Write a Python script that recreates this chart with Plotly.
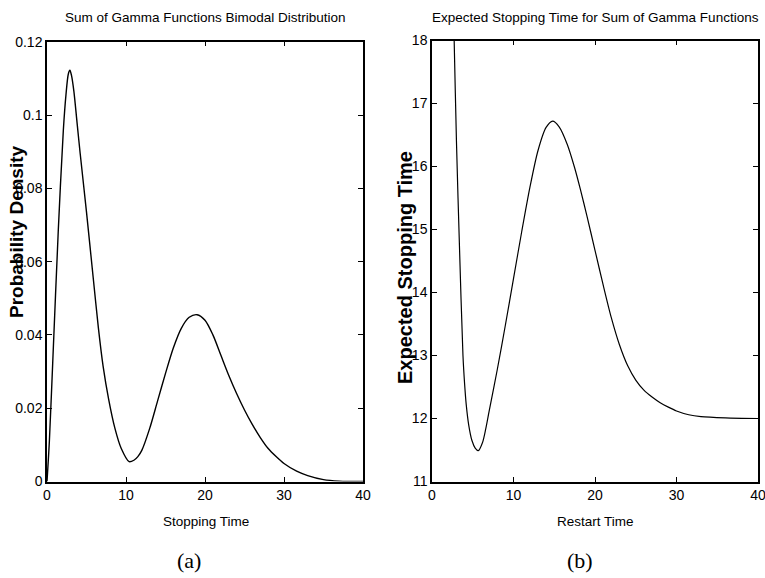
import plotly.graph_objects as go

# Left panel: bimodal density
stop_time = [0, 0.3, 0.72, 1.43, 2.07, 2.4, 2.7, 2.9, 3.1, 3.4, 3.8, 4.2, 5.0, 5.9, 6.5, 7.1, 7.8,
             8.6, 9.4, 10.4, 11.0, 11.5, 12.0, 13.0, 14.0, 15.0, 16.0, 17.0, 18.0, 19.0, 20.0, 21.0,
             22.0, 23.0, 24.0, 25.0, 26.0, 27.0, 28.0, 29.0, 30.0, 31.6, 33.0, 35.0, 37.0, 40.0]
density = [0, 0.011, 0.0322, 0.0686, 0.0959, 0.1055, 0.1112, 0.1122, 0.1108, 0.1065, 0.0980,
           0.0895, 0.0735, 0.0545, 0.0420, 0.0315, 0.0225, 0.0145, 0.0090, 0.0054, 0.0058, 0.0068,
           0.0085, 0.0145, 0.0220, 0.0295, 0.0365, 0.0418, 0.0448, 0.0455, 0.0440, 0.0400, 0.0345,
           0.0290, 0.0240, 0.0195, 0.0155, 0.0120, 0.0090, 0.0068, 0.0049, 0.0028, 0.0016, 0.0005,
           0.0001, 0.0]

# Right panel: expected stopping time vs restart time
restart_time = [2.5, 2.72, 3.0, 3.4, 3.8, 4.0, 4.2, 4.5, 4.9, 5.3, 5.68, 6.2, 6.6, 7.0, 8.0, 9.0,
                10.0, 11.0, 12.0, 13.0, 14.0, 14.8, 15.6, 16.6, 17.5, 18.2, 19.0, 20.0, 21.0, 22.0,
                23.0, 24.0, 25.0, 26.0, 27.0, 28.0, 29.0, 30.0, 31.5, 33.0, 36.0, 40.0]
expected_time = [19.2, 18.0, 16.4, 14.6, 13.0, 12.55, 12.22, 11.9, 11.65, 11.53, 11.49, 11.62,
                 11.84, 12.11, 12.77, 13.48, 14.22, 14.96, 15.66, 16.25, 16.62, 16.72, 16.63,
                 16.35, 15.98, 15.64, 15.22, 14.67, 14.12, 13.60, 13.17, 12.84, 12.61, 12.45,
                 12.34, 12.25, 12.18, 12.12, 12.06, 12.03, 12.01, 12.0]

x_ticks = [0, 10, 20, 30, 40]
left_y_ticks = [0, 0.02, 0.04, 0.06, 0.08, 0.1, 0.12]
left_y_labels = ["0", "0.02", "0.04", "0.06", "0.08", "0.1", "0.12"]
right_y_ticks = [11, 12, 13, 14, 15, 16, 17, 18]

W, H = 765, 578
def px(x):
    return x / W
def py(y):
    return 1 - y / H

narrow = "Liberation Sans Narrow, Arial Narrow, Liberation Sans, Arial, sans-serif"
sans = "Liberation Sans, Arial, sans-serif"
serif = "Liberation Serif, DejaVu Serif, serif"

fig = go.Figure()
fig.add_trace(go.Scatter(x=stop_time, y=density, mode="lines",
                         line=dict(color="black", width=1.4, shape="spline", smoothing=0.8),
                         xaxis="x", yaxis="y", showlegend=False, hoverinfo="skip"))
fig.add_trace(go.Scatter(x=restart_time, y=expected_time, mode="lines",
                         line=dict(color="black", width=1.2, shape="spline", smoothing=0.8),
                         xaxis="x2", yaxis="y2", showlegend=False, hoverinfo="skip"))

axis_common = dict(showgrid=False, zeroline=False, showline=True, linecolor="black", linewidth=1.5,
                   mirror="allticks", ticks="inside", ticklen=5, tickcolor="black",
                   automargin=False, ticklabeloverflow="allow",
                   tickfont=dict(family=narrow, size=14, color="black"))

fig.update_layout(
    width=W, height=H, margin=dict(l=0, r=0, t=0, b=0, pad=0),
    paper_bgcolor="white", plot_bgcolor="white",
    xaxis=dict(domain=[px(47), px(363)], range=[0, 40], tickvals=x_ticks, anchor="y", **axis_common),
    yaxis=dict(domain=[py(481.5), py(41.7)], range=[0, 0.12], tickvals=left_y_ticks,
               ticktext=left_y_labels, anchor="x", **axis_common),
    xaxis2=dict(domain=[px(432), px(758)], range=[0, 40], tickvals=x_ticks, anchor="y2", **axis_common),
    yaxis2=dict(domain=[py(481.5), py(40.5)], range=[11, 18], tickvals=right_y_ticks,
                anchor="x2", **axis_common),
)

ann = []
def text(s, x, y, size, family, angle=0, weight="normal"):
    ann.append(dict(text=s, x=px(x), y=py(y), xref="paper", yref="paper", showarrow=False,
                    xanchor="center", yanchor="middle", textangle=angle,
                    font=dict(family=family, size=size, color="black", weight=weight)))

text("Sum of Gamma Functions Bimodal Distribution", 205, 17, 13.5, narrow)
text("Expected Stopping Time for Sum of Gamma Functions", 595, 17, 13.5, narrow)
text("Stopping Time", 206, 521, 13.5, narrow)
text("Restart Time", 595, 521, 13.5, narrow)
text("Probability Density", 17, 232, 19, sans, -90, "bold")
text("Expected Stopping Time", 405, 268, 20, sans, -90, "bold")
text("(a)", 189, 560, 22, serif)
text("(b)", 580, 560, 22, serif)
fig.update_layout(annotations=ann)

fig.write_html("out.html", config={"displayModeBar": False},
               post_script="document.body.style.margin='0';document.body.style.overflow='hidden';")
